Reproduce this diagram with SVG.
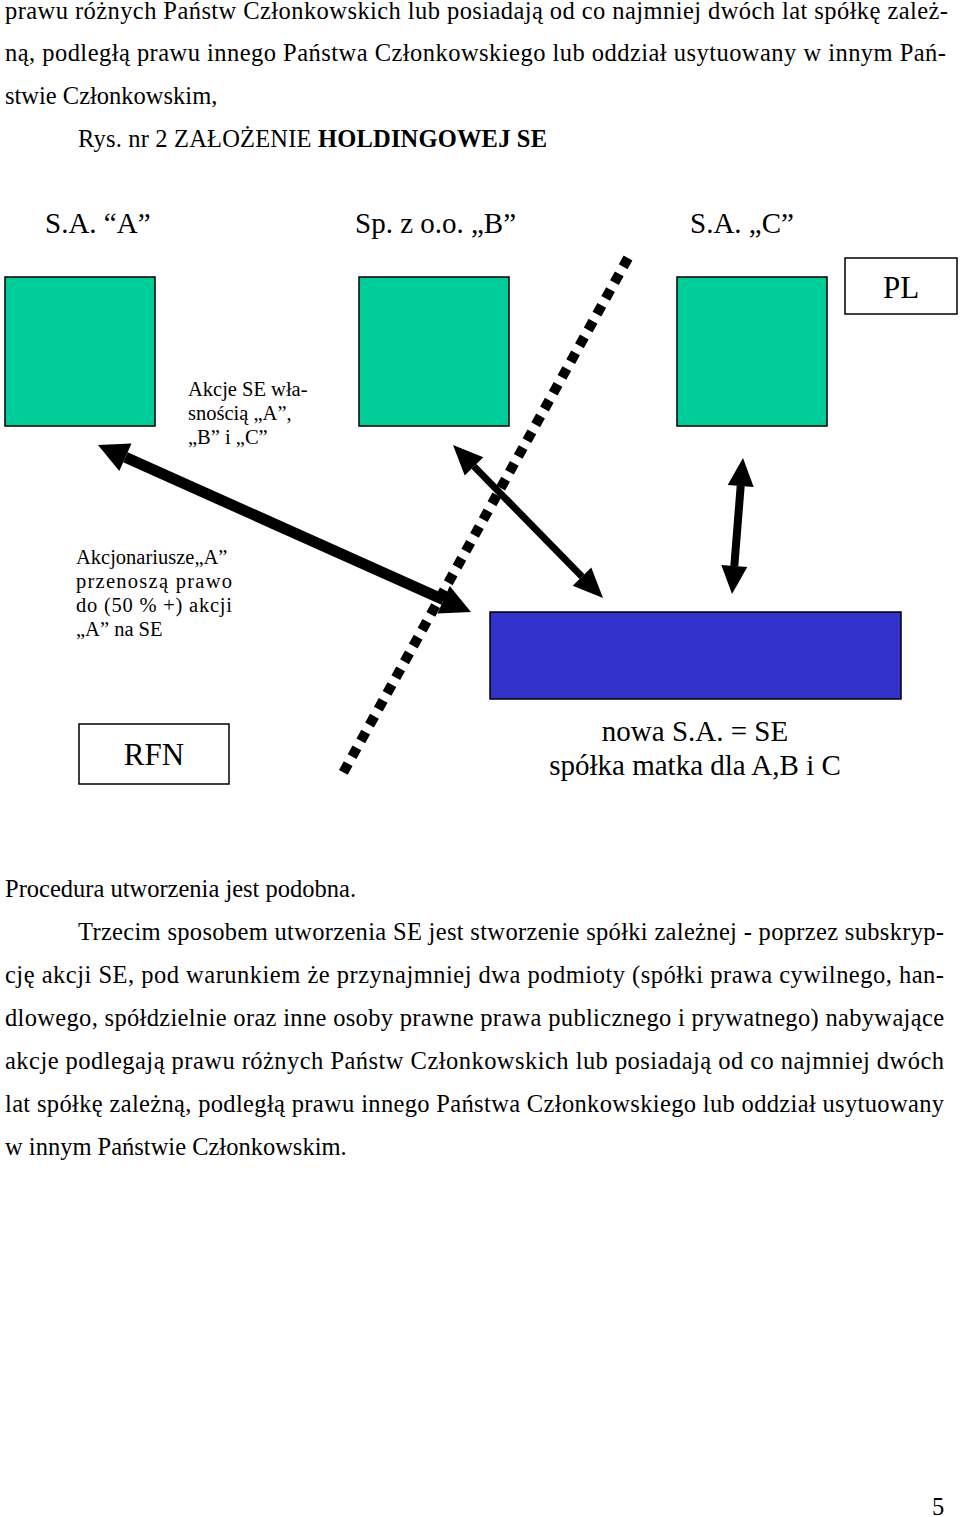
<svg xmlns="http://www.w3.org/2000/svg" width="960" height="1517" viewBox="0 0 960 1517">
<style>
text{font-family:"Liberation Serif","Times New Roman",serif;fill:#000}
.body{font-size:24.5px}
.head{font-size:29px}
.lbl{font-size:20.5px}
.big{font-size:31px}
.green{fill:#00CC99;stroke:#000;stroke-width:1.5}
.blue{fill:#3333CC;stroke:#000;stroke-width:1.5}
.box{fill:#fff;stroke:#000;stroke-width:1.5}
.shaft{stroke:#000;fill:none}
.head-p{fill:#000}
</style>
<rect width="960" height="1517" fill="#fff"/>
<g id="text-top">
<text class="body" x="5" y="19" textLength="943" lengthAdjust="spacing">prawu różnych Państw Członkowskich lub posiadają od co najmniej dwóch lat spółkę zależ-</text>
<text class="body" x="5" y="61" textLength="941" lengthAdjust="spacing">ną, podległą prawu innego Państwa Członkowskiego lub oddział usytuowany w innym Pań-</text>
<text class="body" x="5" y="104">stwie Członkowskim,</text>
<text class="body" x="78" y="147" textLength="469" lengthAdjust="spacing">Rys. nr 2 ZAŁOŻENIE <tspan font-weight="bold">HOLDINGOWEJ SE</tspan></text>
</g>
<g id="node-A">
<text class="head" x="45" y="233">S.A. “A”</text>
<rect class="green" x="5" y="277" width="150" height="149"/>
</g>
<g id="node-B">
<text class="head" x="355" y="233">Sp. z o.o. „B”</text>
<rect class="green" x="359" y="277" width="150" height="149"/>
</g>
<g id="node-C">
<text class="head" x="690" y="233">S.A. „C”</text>
<rect class="green" x="677" y="277" width="150" height="149"/>
</g>
<g id="node-PL">
<rect class="box" x="845" y="258" width="112" height="56"/>
<text class="big" x="901" y="298" text-anchor="middle">PL</text>
</g>
<g id="label-akcje">
<text class="lbl" x="188" y="396">Akcje SE wła-</text>
<text class="lbl" x="188" y="420">snością „A”,</text>
<text class="lbl" x="188" y="444">„B” i „C”</text>
</g>
<g id="label-akcjonariusze">
<text class="lbl" x="76" y="564">Akcjonariusze„A”</text>
<text class="lbl" x="76" y="588" textLength="156" lengthAdjust="spacing">przenoszą prawo</text>
<text class="lbl" x="76" y="612" textLength="156" lengthAdjust="spacing">do (50 % +) akcji</text>
<text class="lbl" x="76" y="636">„A” na SE</text>
</g>
<g id="node-SE">
<rect class="blue" x="490" y="612" width="411" height="87"/>
<text class="head" x="695" y="741" text-anchor="middle">nowa S.A. = SE</text>
<text class="head" x="695" y="775" text-anchor="middle">spółka matka dla A,B i C</text>
</g>
<g id="node-RFN">
<rect class="box" x="79" y="724" width="150" height="60"/>
<text class="big" x="154" y="765" text-anchor="middle">RFN</text>
</g>
<g id="connectors">
<line x1="628" y1="258" x2="343" y2="773" stroke="#000" stroke-width="10" stroke-dasharray="10 8.06"/>
<line class="shaft" x1="125.4" y1="457.3" x2="443.6" y2="599.7" stroke-width="11"/>
<polygon class="head-p" points="98,445 131.5,443.6 119.3,471"/>
<polygon class="head-p" points="471,612 449.7,586 437.5,613.4"/>
<line class="shaft" x1="474" y1="466.4" x2="582" y2="576.6" stroke-width="7"/>
<polygon class="head-p" points="453,445 483.3,457.3 464.7,475.5"/>
<polygon class="head-p" points="603,598 591.3,567.5 572.7,585.7"/>
<line class="shaft" x1="740.7" y1="485.9" x2="734.3" y2="566.1" stroke-width="8"/>
<polygon class="head-p" points="743,458 753.7,486.9 727.7,484.9"/>
<polygon class="head-p" points="732,594 747.3,567.1 721.3,565.1"/>
</g>
<g id="text-body">
<text class="body" x="5" y="897">Procedura utworzenia jest podobna.</text>
<text class="body" x="78" y="940" textLength="866" lengthAdjust="spacing">Trzecim sposobem utworzenia SE jest stworzenie spółki zależnej - poprzez subskryp-</text>
<text class="body" x="5" y="983" textLength="939" lengthAdjust="spacing">cję akcji SE, pod warunkiem że przynajmniej dwa podmioty (spółki prawa cywilnego, han-</text>
<text class="body" x="5" y="1026" textLength="939" lengthAdjust="spacing">dlowego, spółdzielnie oraz inne osoby prawne prawa publicznego i prywatnego) nabywające</text>
<text class="body" x="5" y="1069" textLength="939" lengthAdjust="spacing">akcje podlegają prawu różnych Państw Członkowskich lub posiadają od co najmniej dwóch</text>
<text class="body" x="5" y="1112" textLength="939" lengthAdjust="spacing">lat spółkę zależną, podległą prawu innego Państwa Członkowskiego lub oddział usytuowany</text>
<text class="body" x="5" y="1155">w innym Państwie Członkowskim.</text>
<text class="body" x="932" y="1515">5</text>
</g>
</svg>
